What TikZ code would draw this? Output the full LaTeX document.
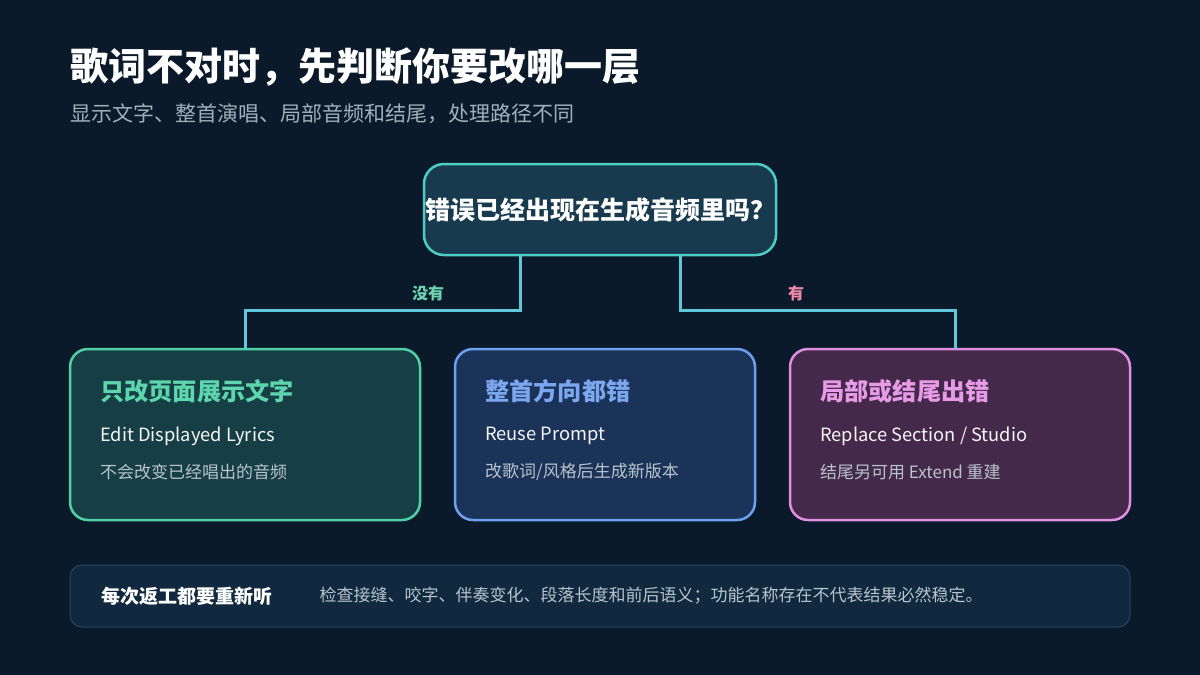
\documentclass[tikz,border=0pt]{standalone}
\usepackage{fontspec}
\setmainfont{Noto Sans CJK SC}
\usetikzlibrary{positioning, calc}
\definecolor{bgnavy}{HTML}{0B1A2A}
\definecolor{qfill}{HTML}{173A4E}
\definecolor{qline}{HTML}{4ECDC4}
\definecolor{wirecyan}{HTML}{62C6DC}
\definecolor{greenfill}{HTML}{163F45}
\definecolor{greenline}{HTML}{4FD1A5}
\definecolor{greentext}{HTML}{5ED6AD}
\definecolor{bluefill}{HTML}{1B3358}
\definecolor{blueline}{HTML}{6EA0F0}
\definecolor{bluetext}{HTML}{7AA7EE}
\definecolor{pinkfill}{HTML}{45294A}
\definecolor{pinkline}{HTML}{E08EE0}
\definecolor{pinktext}{HTML}{E79AE6}
\definecolor{notext}{HTML}{6ED3B0}
\definecolor{yestext}{HTML}{F08AA8}
\definecolor{subgray}{HTML}{A3AEBB}
\definecolor{softgray}{HTML}{B8C4CC}
\definecolor{barfill}{HTML}{10293F}
\definecolor{barline}{HTML}{234660}

\begin{document}
\begin{tikzpicture}[
    x=1pt, y=-1pt,
    node distance=35pt and 35pt,
    basecard/.style={
        rectangle,
        rounded corners=18pt,
        line width=2.5pt,
        minimum height=171pt,
        inner sep=0pt,
        outer sep=0pt
    },
    greencard/.style={basecard, draw=greenline, fill=greenfill, minimum width=350pt},
    bluecard/.style={basecard, draw=blueline, fill=bluefill, minimum width=300pt},
    pinkcard/.style={basecard, draw=pinkline, fill=pinkfill, minimum width=340pt},
    cardtitle/.style={anchor=west, inner sep=0pt, font=\bfseries\fontsize{24.2}{27}\selectfont},
    cardname/.style={anchor=west, inner sep=0pt, text=white!92!gray, font=\fontsize{18.3}{21}\selectfont},
    cardnote/.style={anchor=west, inner sep=0pt, text=softgray, font=\fontsize{17}{20}\selectfont},
    wirestyle/.style={draw=wirecyan, line width=3pt},
    branchlabel/.style={inner sep=0pt, font=\bfseries\fontsize{16}{18}\selectfont}
]

    % --- Background and bounding box ---
    \fill[bgnavy] (0,0) rectangle (1200,675);
    \useasboundingbox (0,0) rectangle (1200,675);

    % --- Heading ---
    \node[anchor=west, inner sep=0pt, text=white, font=\bfseries\fontsize{38}{42}\selectfont] (title) at (70,67) {歌词不对时，先判断你要改哪一层};
    \node[anchor=west, inner sep=0pt, text=subgray, font=\fontsize{21}{24}\selectfont] (subtitle) at (70,114) {显示文字、整首演唱、局部音频和结尾，处理路径不同};

    % --- Question ---
    \node[rectangle, rounded corners=20pt, draw=qline, fill=qfill, line width=2.5pt,
          minimum width=352pt, minimum height=91pt, inner sep=0pt,
          text=white, font=\bfseries\fontsize{25}{28}\selectfont] (ask) at (600,209.5) {错误已经出现在生成音频里吗？};

    % --- Cards ---
    \node[greencard] (keep) at (245,434.5) {};
    \node[bluecard, right=of keep] (redo) {};
    \node[pinkcard, right=of redo] (patch) {};

    \node[cardtitle, text=greentext] (keept) at ([shift={(30,42)}]keep.north west) {只改页面展示文字};
    \node[cardname] (keepn) at ([shift={(30,87)}]keep.north west) {Edit Displayed Lyrics};
    \node[cardnote] (keepd) at ([shift={(30,123)}]keep.north west) {不会改变已经唱出的音频};

    \node[cardtitle, text=bluetext] (redot) at ([shift={(30,42)}]redo.north west) {整首方向都错};
    \node[cardname] (redon) at ([shift={(30,87)}]redo.north west) {Reuse Prompt};
    \node[cardnote] (redod) at ([shift={(30,123)}]redo.north west) {改歌词/风格后生成新版本};

    \node[cardtitle, text=pinktext] (patcht) at ([shift={(30,42)}]patch.north west) {局部或结尾出错};
    \node[cardname] (patchn) at ([shift={(30,87)}]patch.north west) {Replace Section / Studio};
    \node[cardnote] (patchd) at ([shift={(30,123)}]patch.north west) {结尾另可用 Extend 重建};

    % --- Connectors ---
    \coordinate (noknee) at (520,310);
    \coordinate (yesknee) at (680,310);
    \draw[wirestyle] (ask.south -| noknee) -- (noknee) -| (keep.north);
    \draw[wirestyle] (ask.south -| yesknee) -- (yesknee) -| ([xshift=-5pt]patch.north);

    \node[branchlabel, text=notext] (nolabel) at (428,293) {没有};
    \node[branchlabel, text=yestext] (yeslabel) at (796,293) {有};

    % --- Footer bar ---
    \node[rectangle, rounded corners=12pt, draw=barline, fill=barfill, line width=1pt,
          minimum width=1060pt, minimum height=62pt, inner sep=0pt] (bar) at (600,596) {};
    \node[anchor=west, inner sep=0pt, text=white, font=\bfseries\fontsize{19}{22}\selectfont] (barhead) at ([xshift=32pt]bar.west) {每次返工都要重新听};
    \node[anchor=west, inner sep=0pt, text=softgray, font=\fontsize{17}{20}\selectfont] (bartext) at ([xshift=250pt]bar.west) {检查接缝、咬字、伴奏变化、段落长度和前后语义；功能名称存在不代表结果必然稳定。};

\end{tikzpicture}
\end{document}
